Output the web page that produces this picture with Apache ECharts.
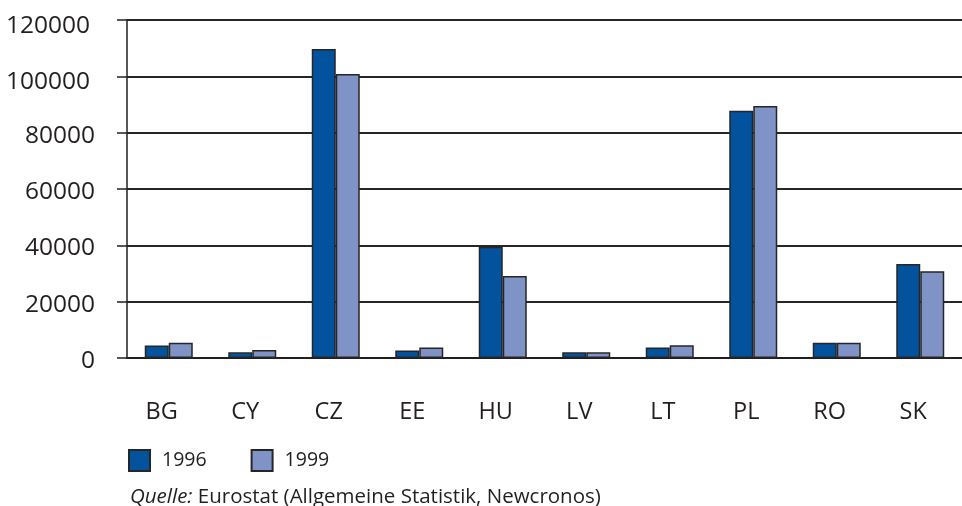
<!DOCTYPE html>
<html>
<head>
<meta charset="utf-8">
<script src="https://cdn.jsdelivr.net/npm/echarts@6/dist/echarts.min.js"></script>
<style>
  html, body { margin: 0; padding: 0; background: #fff; }
  #chart { width: 962px; height: 506px; }
</style>
</head>
<body>
<div id="chart"></div>
<script>
const countries = ['BG', 'CY', 'CZ', 'EE', 'HU', 'LV', 'LT', 'PL', 'RO', 'SK'];
const values1996 = [4400, 2000, 109700, 2700, 39500, 2000, 3700, 87800, 5400, 33400];
const values1999 = [5400, 2800, 100800, 3700, 29100, 2000, 4500, 89500, 5400, 30800];
const seriesNames = ['1996', '1999'];

const ink = '#231f20';
const font = 'Open Sans';

const chart = echarts.init(document.getElementById('chart'));

const option = {
  animation: false,
  grid: {
    left: 127,
    top: 20,
    width: 845,
    bottom: 148
  },
  legend: {
    left: 128,
    top: 449,
    padding: 0,
    itemWidth: 21,
    itemHeight: 21,
    itemGap: 44,
    icon: 'rect',
    data: seriesNames,
    textStyle: {
      fontFamily: font,
      fontSize: 19.5,
      color: ink,
      padding: [0, 0, 0, 7]
    }
  },
  xAxis: {
    type: 'category',
    data: countries,
    axisLine: { lineStyle: { color: ink, width: 2 } },
    axisTick: { length: 10, lineStyle: { color: ink, width: 1.5 } },
    axisLabel: {
      fontFamily: font,
      fontSize: 23.5,
      color: ink,
      margin: 42,
      padding: [0, 14, 0, 0]
    }
  },
  yAxis: {
    type: 'value',
    min: 0,
    max: 120000,
    interval: 20000,
    axisLine: { show: true, lineStyle: { color: ink, width: 1.5 } },
    axisTick: { show: true, length: 10, lineStyle: { color: ink, width: 1.5 } },
    splitLine: { lineStyle: { color: '#262626', width: 1.8 } },
    axisLabel: {
      fontFamily: font,
      fontSize: 24.5,
      color: ink,
      margin: 32,
      padding: [6, 0, 0, 0],
      formatter: v => v >= 100000 ? '{w|' + v + '}' : String(v),
      rich: {
        w: { fontFamily: font, fontSize: 24.5, color: ink, padding: [6, 5, 0, 0] }
      }
    }
  },
  series: [
    {
      name: seriesNames[0],
      type: 'bar',
      data: values1996,
      barWidth: 24,
      barGap: '0%',
      itemStyle: { color: '#02529e', borderColor: '#262626', borderWidth: 1.5 }
    },
    {
      name: seriesNames[1],
      type: 'bar',
      data: values1999,
      barWidth: 24,
      barGap: '0%',
      itemStyle: { color: '#8093c6', borderColor: '#262626', borderWidth: 1.5 }
    }
  ],
  graphic: [
    {
      type: 'text',
      left: 130,
      top: 487,
      style: {
        text: '{i|Quelle:} Eurostat (Allgemeine Statistik, Newcronos)',
        fontFamily: font,
        fontSize: 20.5,
        fill: ink,
        rich: {
          i: { fontFamily: font, fontSize: 20.5, fontStyle: 'italic', fill: ink }
        }
      }
    }
  ]
};

chart.setOption(option);
</script>
</body>
</html>
